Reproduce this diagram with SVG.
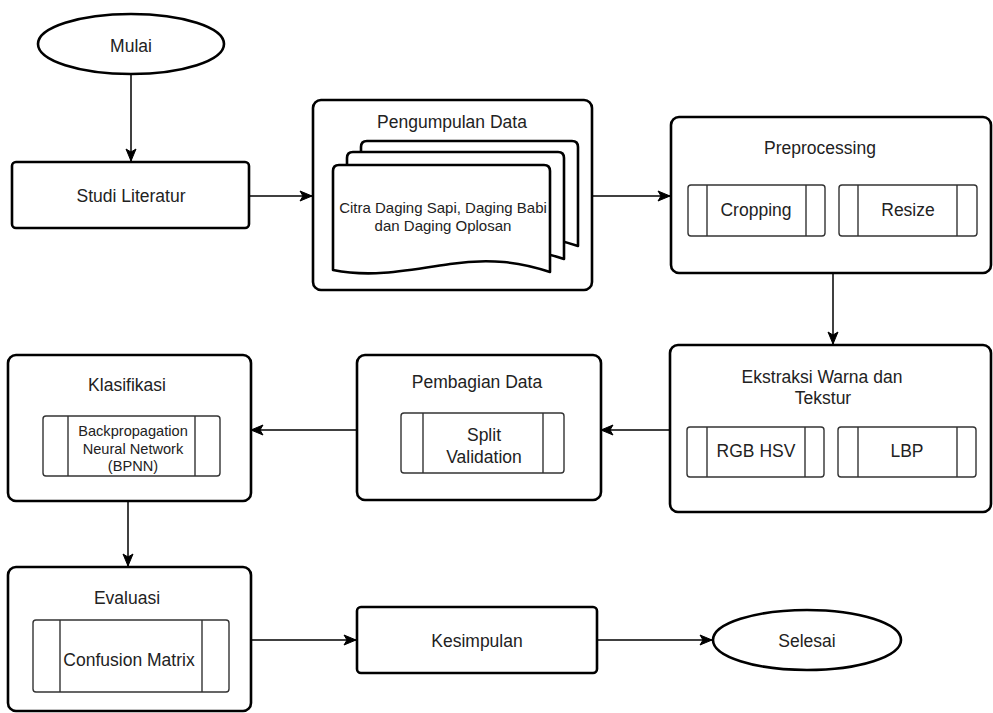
<svg xmlns="http://www.w3.org/2000/svg" width="993" height="713" viewBox="0 0 993 713">
<style>
  .box{fill:#fff;stroke:#000;stroke-width:2.6}
  .sub{fill:#fff;stroke:#333;stroke-width:1.4}
  .div{stroke:#333;stroke-width:1.4}
  .doc{fill:#fff;stroke:#000;stroke-width:2.6;stroke-linejoin:round}
  .t{font-family:"Liberation Sans",Arial,sans-serif;font-size:17.5px;fill:#222;text-anchor:middle;dominant-baseline:central}
  .s{font-size:15px}
  .xs{font-size:14.6px}
  .c{fill:none;stroke:#000;stroke-width:1.5}
</style>
<defs>
  <marker id="arr" markerUnits="userSpaceOnUse" markerWidth="14" markerHeight="12" viewBox="0 0 14 12" refX="13" refY="6" orient="auto">
    <path d="M1,1 L13,6 L1,11 L4,6 Z" fill="#000" stroke="#000" stroke-width="1" stroke-linejoin="round"/>
  </marker>
</defs>
<rect width="993" height="713" fill="#fff"/>

<g id="connectors">
  <line class="c" x1="131" y1="74" x2="131" y2="161" marker-end="url(#arr)"/>
  <line class="c" x1="249" y1="196" x2="312" y2="196" marker-end="url(#arr)"/>
  <line class="c" x1="592" y1="196" x2="670" y2="196" marker-end="url(#arr)"/>
  <line class="c" x1="833" y1="273" x2="833" y2="344" marker-end="url(#arr)"/>
  <line class="c" x1="670" y1="430" x2="601" y2="430" marker-end="url(#arr)"/>
  <line class="c" x1="357" y1="430" x2="251" y2="430" marker-end="url(#arr)"/>
  <line class="c" x1="128" y1="501" x2="128" y2="566" marker-end="url(#arr)"/>
  <line class="c" x1="251" y1="640" x2="356" y2="640" marker-end="url(#arr)"/>
  <line class="c" x1="597" y1="640" x2="712" y2="640" marker-end="url(#arr)"/>
</g>

<g id="mulai">
  <ellipse class="box" cx="131" cy="44" rx="93" ry="30"/>
  <text class="t" x="131" y="46">Mulai</text>
</g>

<g id="studi-literatur">
  <rect class="box" x="12" y="162" width="237" height="66" rx="4"/>
  <text class="t" x="131" y="196">Studi Literatur</text>
</g>

<g id="pengumpulan-data">
  <rect class="box" x="313" y="100" width="279" height="190" rx="8"/>
  <text class="t" x="452" y="122">Pengumpulan Data</text>
  <path class="doc" d="M361,147 Q361,141 367,141 L572,141 Q578,141 578,147 L578,246 C548,236 518,232 478,238 C438,244 400,252 361,244 Z"/>
  <path class="doc" d="M347,158 Q347,152 353,152 L558,152 Q564,152 564,158 L564,259 C534,249 504,245 464,251 C424,257 386,265 347,257 Z"/>
  <path class="doc" d="M333,171 Q333,165 339,165 L544,165 Q550,165 550,171 L550,272 C520,262 490,258 450,264 C410,270 372,278 333,270 Z"/>
  <text class="t s" x="443" y="207">Citra Daging Sapi, Daging Babi</text>
  <text class="t s" x="443" y="225">dan Daging Oplosan</text>
</g>

<g id="preprocessing">
  <rect class="box" x="671" y="117" width="320" height="156" rx="8"/>
  <text class="t" x="820" y="148">Preprocessing</text>
  <rect class="sub" x="688" y="185" width="137" height="51" rx="3"/>
  <line class="div" x1="707" y1="185" x2="707" y2="236"/>
  <line class="div" x1="806" y1="185" x2="806" y2="236"/>
  <text class="t" x="756" y="210">Cropping</text>
  <rect class="sub" x="839" y="185" width="138" height="51" rx="3"/>
  <line class="div" x1="858" y1="185" x2="858" y2="236"/>
  <line class="div" x1="957" y1="185" x2="957" y2="236"/>
  <text class="t" x="908" y="210">Resize</text>
</g>

<g id="ekstraksi">
  <rect class="box" x="670" y="345" width="321" height="167" rx="8"/>
  <text class="t" x="822" y="377">Ekstraksi Warna dan</text>
  <text class="t" x="823" y="398">Tekstur</text>
  <rect class="sub" x="687" y="427" width="137" height="50" rx="3"/>
  <line class="div" x1="707" y1="427" x2="707" y2="477"/>
  <line class="div" x1="805" y1="427" x2="805" y2="477"/>
  <text class="t" x="756" y="451">RGB HSV</text>
  <rect class="sub" x="838" y="427" width="138" height="50" rx="3"/>
  <line class="div" x1="858" y1="427" x2="858" y2="477"/>
  <line class="div" x1="957" y1="427" x2="957" y2="477"/>
  <text class="t" x="907" y="451">LBP</text>
</g>

<g id="pembagian-data">
  <rect class="box" x="357" y="355" width="244" height="145" rx="8"/>
  <text class="t" x="477" y="382">Pembagian Data</text>
  <rect class="sub" x="401" y="413" width="163" height="60" rx="3"/>
  <line class="div" x1="423" y1="413" x2="423" y2="473"/>
  <line class="div" x1="543" y1="413" x2="543" y2="473"/>
  <text class="t" x="484" y="435">Split</text>
  <text class="t" x="484" y="457">Validation</text>
</g>

<g id="klasifikasi">
  <rect class="box" x="8" y="355" width="243" height="146" rx="8"/>
  <text class="t" x="127" y="385">Klasifikasi</text>
  <rect class="sub" x="43" y="416" width="177" height="60" rx="3"/>
  <line class="div" x1="68" y1="416" x2="68" y2="476"/>
  <line class="div" x1="195" y1="416" x2="195" y2="476"/>
  <text class="t xs" x="133" y="431">Backpropagation</text>
  <text class="t xs" x="133" y="449">Neural Network</text>
  <text class="t xs" x="133" y="466">(BPNN)</text>
</g>

<g id="evaluasi">
  <rect class="box" x="8" y="567" width="243" height="144" rx="8"/>
  <text class="t" x="127" y="598">Evaluasi</text>
  <rect class="sub" x="33" y="620" width="196" height="72" rx="3"/>
  <line class="div" x1="60" y1="620" x2="60" y2="692"/>
  <line class="div" x1="202" y1="620" x2="202" y2="692"/>
  <text class="t" x="129" y="660">Confusion Matrix</text>
</g>

<g id="kesimpulan">
  <rect class="box" x="357" y="607" width="240" height="66" rx="4"/>
  <text class="t" x="477" y="641">Kesimpulan</text>
</g>

<g id="selesai">
  <ellipse class="box" cx="807" cy="640" rx="94" ry="30"/>
  <text class="t" x="807" y="641">Selesai</text>
</g>
</svg>
